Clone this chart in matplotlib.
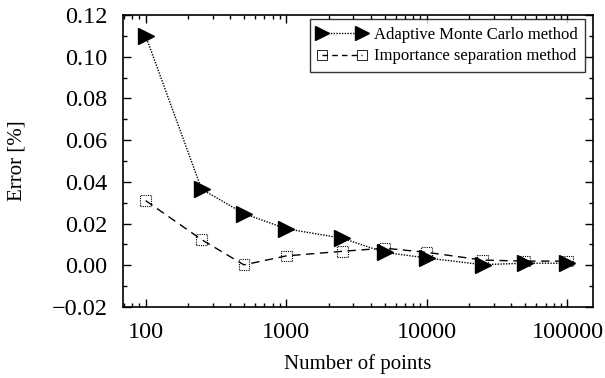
import matplotlib
matplotlib.use('Agg')
import matplotlib.pyplot as plt
from matplotlib.ticker import MultipleLocator, FixedLocator, NullFormatter, FuncFormatter
from matplotlib.lines import Line2D

plt.rcParams['font.family'] = 'Liberation Serif'

# Data #################################################
n_points = [100, 250, 500, 1000, 2500, 5000, 10000, 25000, 50000, 100000]
err_adaptive = [0.110, 0.0365, 0.0248, 0.0175, 0.013, 0.0062, 0.0035, 0.0003, 0.001, 0.001]
err_importance = [0.031, 0.0123, 0.0002, 0.0045, 0.0067, 0.0082, 0.0062, 0.0025, 0.002, 0.002]
xtick_vals = [100, 1000, 10000, 100000]
xtick_labels = ['100', '1000', '10000', '100000']

# Plot #################################################
fig = plt.figure(figsize=(6.05, 3.78), dpi=100)
ax = fig.add_axes([123/605, 1 - 307/378, (593 - 123)/605, (307 - 15)/378])

dot = (0, (1, 1))
dash = (0, (6, 4))

ax.plot(n_points, err_adaptive, color='black', linestyle=dot, linewidth=1,
        marker='>', markersize=11, markerfacecolor='black', markeredgecolor='black')
ax.plot(n_points, err_importance, color='black', linestyle=dash, linewidth=1)
# open squares with dotted edge
ax.scatter(n_points, err_importance, marker='s', s=60, facecolors='none',
           edgecolors='black', linewidths=0.8, linestyles=dot, zorder=3)

ax.set_xscale('log')
ax.set_xlim(69, 152000)
ax.set_ylim(-0.02, 0.12)
ax.xaxis.set_major_locator(FixedLocator(xtick_vals))
ax.set_xticklabels(xtick_labels)
ax.xaxis.set_minor_formatter(NullFormatter())
ax.yaxis.set_major_locator(MultipleLocator(0.02))
ax.yaxis.set_minor_locator(MultipleLocator(0.01))
ax.yaxis.set_major_formatter(FuncFormatter(lambda v, p: ('%.2f' % v).replace('-', '\u2212')))

ax.tick_params(which='both', direction='in', top=True, right=True, labelsize=17.5, width=1)
ax.tick_params(which='major', length=6, pad=11)
ax.tick_params(which='minor', length=3)
for s in ax.spines.values():
    s.set_linewidth(1.2)

ax.set_xlabel('Number of points', fontsize=15, labelpad=8)
ax.set_ylabel('Error [%]', fontsize=15, labelpad=18)

h1 = Line2D([], [], color='black', linestyle=dot, linewidth=1, marker='>',
            markersize=10, markerfacecolor='black')
h2 = Line2D([], [], color='black', linestyle=(0, (4, 3)), linewidth=1, marker='s',
            markersize=7, markerfacecolor='none', markeredgewidth=0.6)
leg = ax.legend([h1, h2], ['Adaptive Monte Carlo method', 'Importance separation method'],
                loc='upper right', fontsize=12, frameon=True, fancybox=False,
                edgecolor='black', handlelength=3.0, handletextpad=0.4,
                borderpad=0.45, labelspacing=0.35, borderaxespad=0,
                bbox_to_anchor=((585 - 123)/470, (307 - 19)/292), numpoints=2)
leg.get_frame().set_linewidth(1)

fig.savefig('out.png', dpi=100)
